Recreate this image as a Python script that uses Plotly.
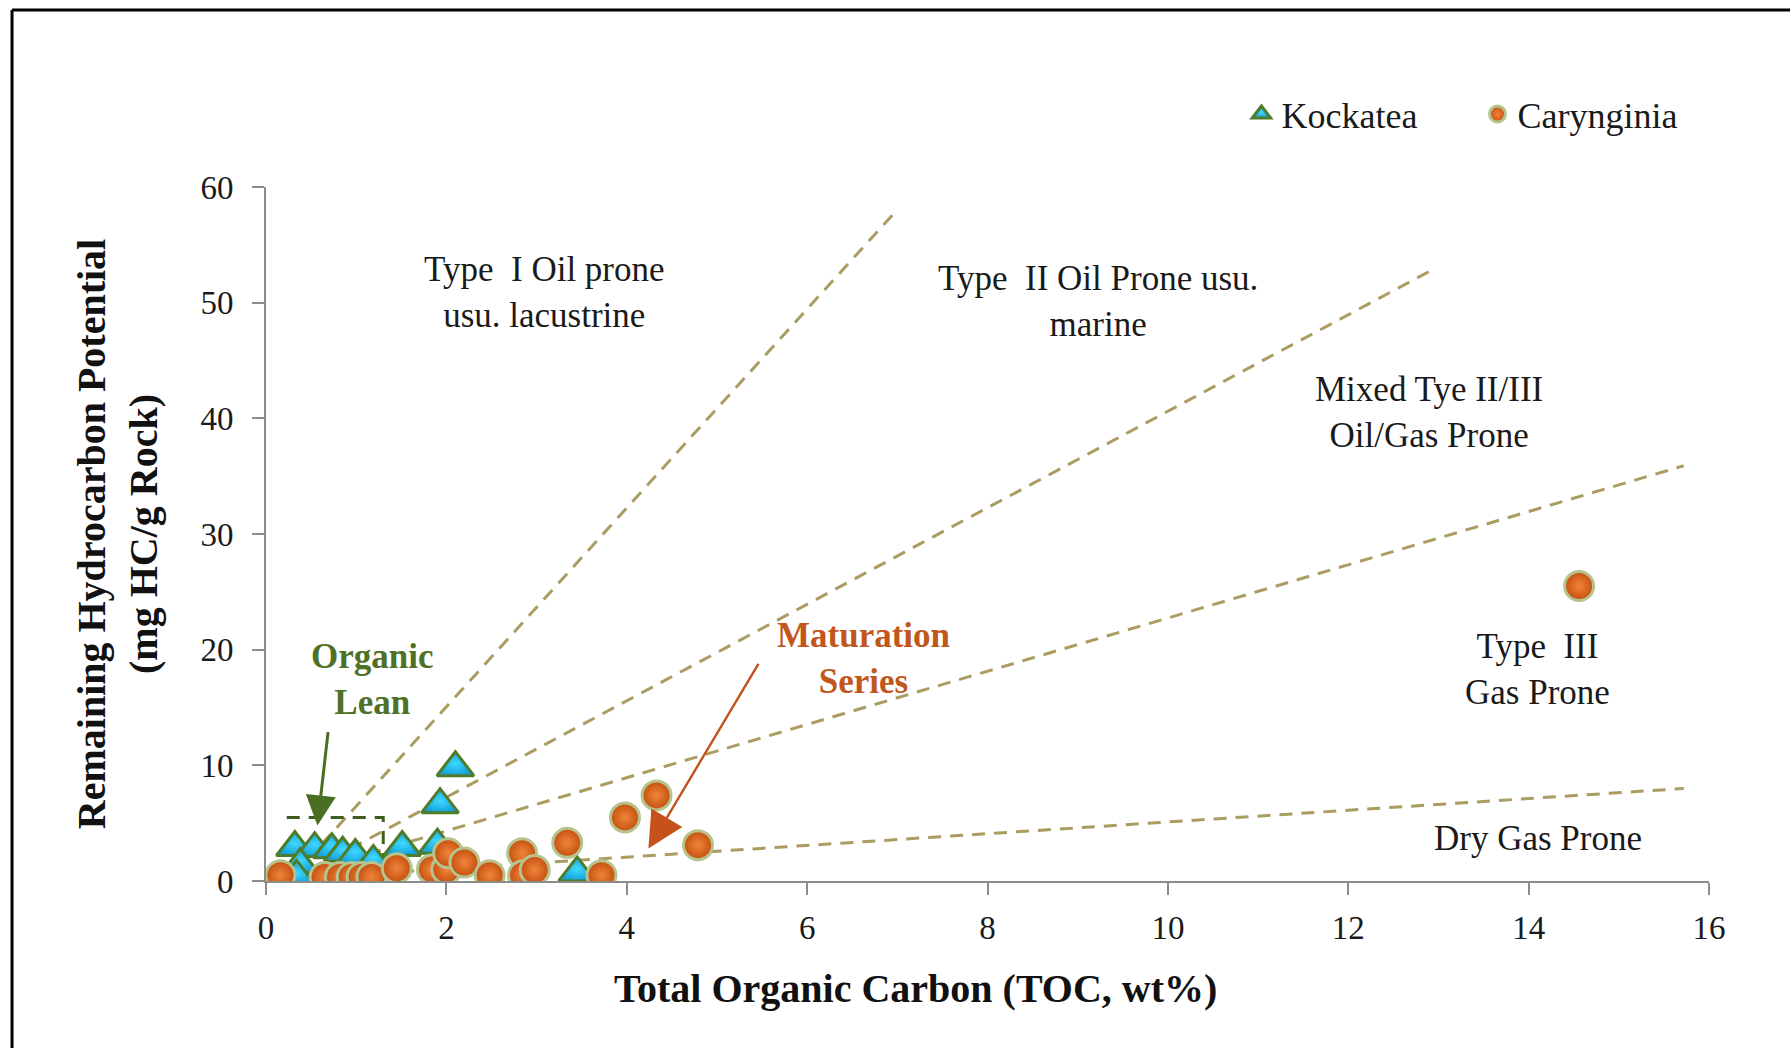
import plotly.graph_objects as go

# ---------------- data ----------------
kock_toc = [0.32, 0.54, 0.73, 0.85, 0.99, 1.19, 1.51, 1.90, 0.38, 0.34, 1.93, 2.10, 3.45]
kock_hc = [2.9, 2.8, 2.7, 2.4, 2.2, 1.7, 2.9, 3.1, 1.4, 0.4, 6.6, 9.8, 0.7]

cary_toc = [0.16, 0.65, 0.82, 0.95, 1.06, 1.17, 1.45, 1.84, 2.00, 2.02, 2.20, 2.48,
            2.84, 2.85, 2.98, 3.34, 3.72, 3.98, 4.33, 4.79, 14.56]
cary_hc = [0.5, 0.35, 0.35, 0.35, 0.35, 0.35, 1.1, 1.0, 1.0, 2.4, 1.6, 0.5,
           2.4, 0.5, 0.95, 3.3, 0.5, 5.5, 7.4, 3.1, 25.5]

# kerogen type boundary lines (start / end points)
type1_x = [0.62, 6.96]
type1_y = [3.2, 57.7]
type2_x = [0.72, 12.97]
type2_y = [1.9, 53.0]
mixed_x = [0.90, 15.72]
mixed_y = [1.8, 35.9]
dry_x = [1.50, 15.72]
dry_y = [0.8, 8.0]

# organic lean box
lean_x = [0.23, 1.30, 1.30]
lean_y = [5.5, 5.5, 0.0]

x_ticks = [0, 2, 4, 6, 8, 10, 12, 14, 16]
y_ticks = [0, 10, 20, 30, 40, 50, 60]

SERIF = "Liberation Serif, Times New Roman, serif"
LINE_COL = "#ab9c62"

fig = go.Figure()

for lx, ly in [(type1_x, type1_y), (type2_x, type2_y), (mixed_x, mixed_y), (dry_x, dry_y)]:
    fig.add_trace(go.Scatter(x=lx, y=ly, mode="lines", showlegend=False, hoverinfo="skip",
                             line=dict(color=LINE_COL, width=3, dash="13px,9px")))

fig.add_trace(go.Scatter(x=lean_x, y=lean_y, mode="lines", showlegend=False, hoverinfo="skip",
                         line=dict(color="#3d5e1c", width=3, dash="13px,9px")))

fig.add_trace(go.Scatter(
    x=kock_toc, y=kock_hc, mode="markers", name="Kockatea",
    marker=dict(symbol="triangle-up", size=32, color="#14a2da",
                gradient=dict(type="radial", color="#3fd8ff"),
                line=dict(color="#4e7c2a", width=3))))

fig.add_trace(go.Scatter(
    x=cary_toc, y=cary_hc, mode="markers", name="Carynginia",
    marker=dict(symbol="circle", size=29, color="#c4500f",
                gradient=dict(type="radial", color="#f0843a"),
                line=dict(color="#b7c38c", width=3))))

text_font = dict(family=SERIF, size=35, color="#1a1a1a")
labels = [
    (3.09, 50.9, "Type&nbsp; I Oil prone<br>usu. lacustrine"),
    (9.23, 50.1, "Type&nbsp; II Oil Prone usu.<br>marine"),
    (12.9, 40.5, "Mixed Tye II/III<br>Oil/Gas Prone"),
    (14.1, 18.3, "Type&nbsp; III<br>Gas Prone"),
    (14.1, 3.65, "Dry Gas Prone"),
]
for x, y, t in labels:
    fig.add_annotation(x=x, y=y, text=t, showarrow=False, font=text_font, align="center")

fig.add_annotation(x=1.18, y=17.4, text="<b>Organic<br>Lean</b>", showarrow=False,
                   font=dict(family=SERIF, size=35, color="#4f7127"), align="center")
fig.add_annotation(x=6.63, y=19.2, text="<b>Maturation<br>Series</b>", showarrow=False,
                   font=dict(family=SERIF, size=35, color="#c2571d"), align="center")

fig.add_annotation(x=0.57, y=4.8, ax=0.69, ay=13.0, xref="x", yref="y", axref="x", ayref="y",
                   text="", showarrow=True, arrowhead=2, arrowsize=2.0, arrowwidth=3,
                   arrowcolor="#4a6e22")
fig.add_annotation(x=4.24, y=2.8, ax=5.47, ay=18.9, xref="x", yref="y", axref="x", ayref="y",
                   text="", showarrow=True, arrowhead=2, arrowsize=3, arrowwidth=2.4,
                   arrowcolor="#c4521a")

# x axis title (offset to the left of the plot centre, as in the original)
fig.add_annotation(x=0.450, y=-0.155, xref="paper", yref="paper", showarrow=False,
                   xanchor="center", yanchor="middle",
                   text="<b>Total Organic Carbon (TOC, wt%)</b>",
                   font=dict(family=SERIF, size=40, color="#111"))

# frame (only left and top edges visible in the picture)
fig.add_shape(type="line", xref="paper", yref="paper", x0=-0.176, x1=-0.176, y0=-0.4, y1=1.255,
              line=dict(color="black", width=3))
fig.add_shape(type="line", xref="paper", yref="paper", x0=-0.176, x1=1.2, y0=1.255, y1=1.255,
              line=dict(color="black", width=3))

axis_common = dict(showgrid=False, zeroline=False, showline=True, linecolor="#8c8c8c",
                   linewidth=2, ticks="outside", tickcolor="#8c8c8c", ticklen=12, tickwidth=2,
                   tickfont=dict(family=SERIF, size=33, color="#1a1a1a"))

fig.update_layout(
    width=1790, height=1048,
    margin=dict(l=266, r=81, t=187, b=167),
    paper_bgcolor="white", plot_bgcolor="white",
    xaxis=dict(range=[0, 16], tickvals=x_ticks, ticklabelstandoff=4, **axis_common),
    yaxis=dict(range=[0, 60], tickvals=y_ticks, ticklabelstandoff=12,
               title=dict(text="<b>Remaining Hydrocarbon Potential<br>(mg HC/g Rock)</b>",
                          standoff=30, font=dict(family=SERIF, size=40, color="#111")),
               **axis_common),
    legend=dict(orientation="h", x=0.676, y=1.105, xanchor="left", yanchor="middle",
                font=dict(family=SERIF, size=36, color="#1a1a1a"),
                bgcolor="rgba(0,0,0,0)", entrywidth=191),
    showlegend=True,
)

fig.write_html("out.html")
